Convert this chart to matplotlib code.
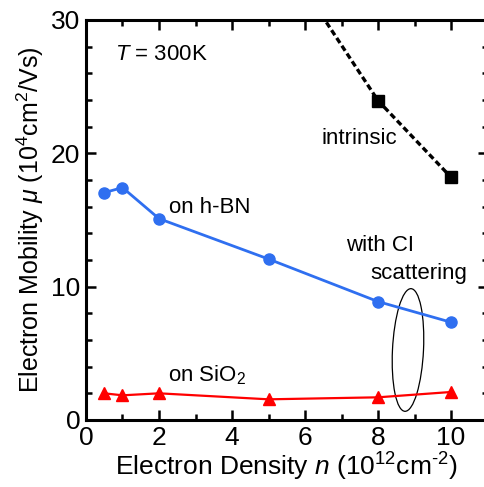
import matplotlib.pyplot as plt
from matplotlib.patches import Ellipse
from matplotlib.ticker import MultipleLocator

plt.rcParams['font.family'] = ['Liberation Sans', 'DejaVu Sans']
plt.rcParams['mathtext.fontset'] = 'custom'
plt.rcParams['mathtext.rm'] = 'Liberation Sans'
plt.rcParams['mathtext.it'] = 'Liberation Sans:italic'

# electron density (10^12 cm^-2)
n_meas = [0.5, 1, 2, 5, 8, 10]
mu_hbn = [17.05, 17.43, 15.1, 12.07, 8.88, 7.33]
mu_sio2 = [2.0, 1.85, 2.0, 1.55, 1.7, 2.1]
# intrinsic limit (first point lies above the plotted range)
n_int = [5, 8, 10]
mu_int = [36.4, 23.95, 18.2]

fig = plt.figure(figsize=(4.85, 4.87), dpi=100)
ax = fig.add_axes([0.1773, 0.1376, 0.828, 0.8214])

ax.plot(n_meas, mu_hbn, '-o', color='#2f6ff0', lw=2, ms=8)
ax.plot(n_meas, mu_sio2, '-^', color='#ff0000', lw=1.6, ms=9)
ax.plot(n_int, mu_int, 's', color='black', ms=8, ls=(0, (1.8, 1.0)), lw=2.4)

ax.add_patch(Ellipse((8.82, 5.25), 0.85, 9.2, angle=-1, fill=False,
                     ec='black', lw=0.9))

fs = 16
ax.text(0.8, 27.4, '$T$ = 300K', fontsize=fs, va='center')
ax.text(6.45, 21.1, 'intrinsic', fontsize=fs, va='center')
ax.text(2.28, 15.95, 'on h-BN', fontsize=fs, va='center')
ax.text(7.12, 13.07, 'with CI', fontsize=fs, va='center')
ax.text(7.8, 11.0, 'scattering', fontsize=fs, va='center')
ax.text(2.25, 3.37, 'on SiO$_2$', fontsize=fs, va='center')

ax.set_xlim(0, 11)
ax.set_ylim(0, 30)
ax.xaxis.set_major_locator(MultipleLocator(2))
ax.xaxis.set_minor_locator(MultipleLocator(1))
ax.yaxis.set_major_locator(MultipleLocator(10))
ax.yaxis.set_minor_locator(MultipleLocator(2))
ax.tick_params(which='both', direction='in', top=True, right=True,
               labelsize=19, width=1.8, pad=4)
ax.tick_params(which='major', length=7)
ax.tick_params(which='minor', length=4)
for s in ax.spines.values():
    s.set_linewidth(2.2)

ax.set_xlabel('Electron Density $n$ ($10^{12}$cm$^{\u20102}$)', fontsize=19, labelpad=1)
ax.set_ylabel('Electron Mobility $\\mu$ ($10^4$cm$^2$/Vs)', fontsize=18, labelpad=4)

fig.savefig('out.png', dpi=100)
